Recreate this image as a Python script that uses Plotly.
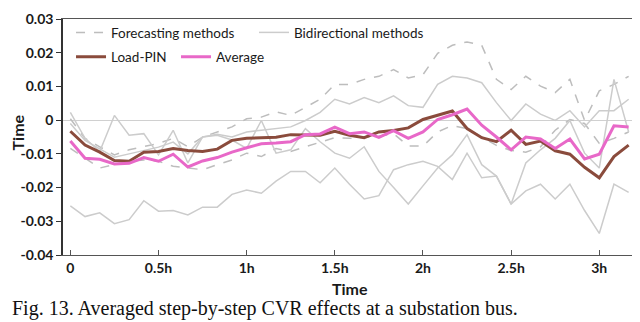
import plotly.graph_objects as go

steps = list(range(39))
tick_pos = [0, 6, 12, 18, 24, 30, 36]
tick_lab = ["0", "0.5h", "1h", "1.5h", "2h", "2.5h", "3h"]
y_ticks = [0.03, 0.02, 0.01, 0, -0.01, -0.02, -0.03, -0.04]
y_labels = ["0.03", "0.02", "0.01", "0", "-0.01", "-0.02", "-0.03", "-0.04"]

# forecasting methods (dashed)
fc1 = [0.0004, -0.0054, -0.0079, -0.0103, -0.0088, -0.0079, -0.0069, -0.0054, -0.0079, -0.0050,
       -0.0035, -0.0020, 0.0004, 0.0009, 0.0025, 0.0014, 0.0038, 0.0062, 0.0106, 0.0106,
       0.0121, 0.0130, 0.0150, 0.0125, 0.0135, 0.0198, 0.0222, 0.0232, 0.0222, 0.0121,
       0.0091, 0.0130, 0.0101, 0.0082, 0.0121, -0.0001, 0.0087, 0.0106, 0.0130]
fc2 = [-0.0084, -0.0113, -0.0142, -0.0132, -0.0122, -0.0118, -0.0122, -0.0137, -0.0142, -0.0147,
       -0.0132, -0.0118, -0.0098, -0.0108, -0.0084, -0.0093, -0.0079, -0.0066, -0.0052, -0.0054,
       -0.0052, -0.0048, -0.0040, -0.0077, -0.0077, -0.0035, -0.0016, -0.0025, -0.0050, -0.0075,
       -0.0090, -0.0095, -0.0079, -0.0030, 0.0002, -0.0010, -0.0069, -0.0054, -0.0035]

# bidirectional methods (solid grey)
bd1 = [-0.0254, -0.0286, -0.0275, -0.0307, -0.0295, -0.0239, -0.0270, -0.0268, -0.0281, -0.0258,
       -0.0258, -0.0220, -0.0207, -0.0217, -0.0181, -0.0152, -0.0152, -0.0186, -0.0142, -0.0190,
       -0.0234, -0.0224, -0.0147, -0.0132, -0.0122, -0.0137, -0.0176, -0.0098, -0.0171, -0.0166,
       -0.0249, -0.0210, -0.0190, -0.0234, -0.0190, -0.0268, -0.0336, -0.0190, -0.0214]
bd2 = [0.0023, -0.0054, -0.0093, 0.0014, -0.0045, -0.0040, -0.0103, -0.0030, -0.0127, -0.0050,
       -0.0045, -0.0059, -0.0084, -0.0001, -0.0098, -0.0088, -0.0025, -0.0064, -0.0098, -0.0113,
       -0.0079, -0.0152, -0.0200, -0.0249, -0.0195, -0.0142, -0.0103, -0.0043, -0.0132, -0.0166,
       -0.0249, -0.0127, -0.0088, -0.0054, -0.0001, -0.0098, -0.0142, 0.0121, -0.0035]
bd3 = [-0.0010, -0.0060, -0.0085, -0.0110, -0.0100, -0.0090, -0.0080, -0.0065, -0.0100, -0.0050,
       -0.0042, -0.0050, -0.0035, -0.0030, -0.0025, -0.0020, -0.0001, 0.0023, 0.0062, 0.0048,
       0.0067, 0.0052, 0.0072, 0.0043, 0.0038, 0.0106, 0.0130, 0.0125, 0.0111, 0.0052,
       -0.0001, 0.0048, 0.0018, -0.0001, 0.0028, -0.0020, 0.0028, 0.0028, 0.0062]

load_pin = [-0.0033, -0.0074, -0.0095, -0.0120, -0.0122, -0.0095, -0.0093, -0.0084, -0.0090, -0.0093,
            -0.0086, -0.0060, -0.0054, -0.0052, -0.0051, -0.0043, -0.0045, -0.0045, -0.0033, -0.0045,
            -0.0052, -0.0035, -0.0031, -0.0023, 0.0002, 0.0014, 0.0027, -0.0025, -0.0052, -0.0064,
            -0.0030, -0.0072, -0.0062, -0.0091, -0.0101, -0.0140, -0.0171, -0.0108, -0.0074]
average = [-0.0062, -0.0113, -0.0116, -0.0130, -0.0128, -0.0111, -0.0122, -0.0101, -0.0139, -0.0121,
           -0.0111, -0.0095, -0.0082, -0.0070, -0.0068, -0.0064, -0.0043, -0.0041, -0.0021, -0.0040,
           -0.0035, -0.0051, -0.0031, -0.0054, -0.0035, 0.0002, 0.0016, 0.0033, -0.0015, -0.0050,
           -0.0088, -0.0050, -0.0056, -0.0084, -0.0056, -0.0115, -0.0101, -0.0017, -0.0020]

fig = go.Figure()

for k, s in enumerate([fc1, fc2]):
    fig.add_trace(go.Scatter(x=steps, y=s, mode="lines", name="Forecasting methods",
                             line=dict(color="#bdbdbd", width=1.5, dash="dash"),
                             showlegend=(k == 0), legend="legend"))
for k, s in enumerate([bd1, bd2, bd3]):
    fig.add_trace(go.Scatter(x=steps, y=s, mode="lines", name="Bidirectional methods",
                             line=dict(color="#cccccc", width=1.5),
                             showlegend=(k == 0), legend="legend"))

fig.add_trace(go.Scatter(x=steps, y=load_pin, mode="lines", name="Load-PIN",
                         line=dict(color="#8a4b3c", width=3), legend="legend2"))
fig.add_trace(go.Scatter(x=steps, y=average, mode="lines", name="Average",
                         line=dict(color="#e868c8", width=3), legend="legend2"))

# page body has an 8px margin, so the figure is a bit smaller than the window
fig.update_layout(
    width=632, height=314,
    margin=dict(l=55, r=2, t=7, b=67),
    paper_bgcolor="white", plot_bgcolor="white",
    font=dict(family="Lato", color="#1a1a1a"),
    legend=dict(orientation="h", x=0.014, y=1.008, xanchor="left", yanchor="top",
                font=dict(size=13.5, family="Lato"), bgcolor="rgba(0,0,0,0)",
                traceorder="normal", itemwidth=30, entrywidth=138),
    legend2=dict(orientation="h", x=0.014, y=0.905, xanchor="left", yanchor="top",
                 font=dict(size=13.5, family="Lato"), bgcolor="rgba(0,0,0,0)",
                 traceorder="normal", itemwidth=30, entrywidth=60),
    showlegend=True,
)

fig.update_xaxes(range=[-0.5, 38.5], tickvals=tick_pos, ticktext=tick_lab,
                 showgrid=False, zeroline=False, showline=True, linecolor="#555555",
                 linewidth=1, mirror=True, ticks="inside", ticklen=5, tickcolor="#555555",
                 tickfont=dict(size=14, family="Lato", weight="bold", color="#1a1a1a"))
fig.update_yaxes(range=[-0.04, 0.03], tickvals=y_ticks, ticktext=y_labels,
                 showgrid=False, zeroline=True, zerolinecolor="#d0d0d0", zerolinewidth=1,
                 showline=True, linecolor="#333333", linewidth=1.5, mirror=True,
                 ticks="outside", ticklen=5, tickcolor="#333333", ticklabeloverflow="allow",
                 tickfont=dict(size=14, family="Lato", weight="bold", color="#1a1a1a"))

fig.add_annotation(text="<b>Time</b>", xref="paper", yref="paper", x=0.5, y=-0.142,
                   showarrow=False, font=dict(size=16, family="Lato"),
                   xanchor="center", yanchor="middle")
fig.add_annotation(text="<b>Time</b>", xref="paper", yref="paper", x=-0.08, y=0.52,
                   showarrow=False, textangle=-90, font=dict(size=16, family="Lato"),
                   xanchor="center", yanchor="middle")
fig.add_annotation(text="Fig. 13. Averaged step-by-step CVR effects at a substation bus.",
                   xref="paper", yref="paper", x=-0.093, y=-0.226, showarrow=False,
                   font=dict(size=20, family="Liberation Serif", color="#111111"),
                   xanchor="left", yanchor="middle")

fig.write_html("out.html")
